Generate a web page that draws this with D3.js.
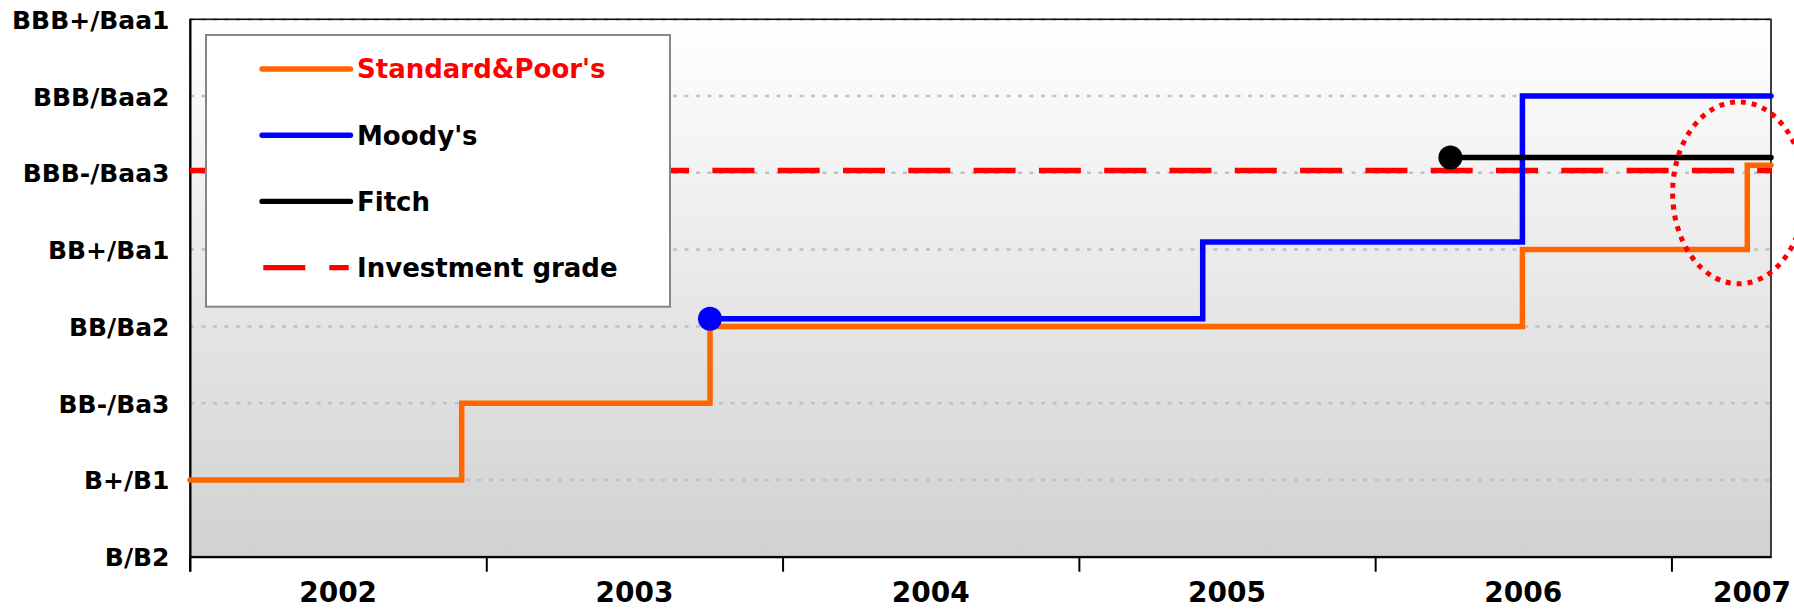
<!DOCTYPE html>
<html>
<head>
<meta charset="utf-8">
<script src="https://cdn.jsdelivr.net/npm/d3@7"></script>
<style>
  html, body { margin: 0; padding: 0; background: #ffffff; }
  svg { display: block; }
  text { font-family: "DejaVu Sans", Verdana, sans-serif; font-weight: bold; }
</style>
</head>
<body>
<svg id="chart" width="1794" height="609"></svg>
<script>
// ---------------- DATA ----------------
const ratingLabels = ["B/B2", "B+/B1", "BB-/Ba3", "BB/Ba2", "BB+/Ba1", "BBB-/Baa3", "BBB/Baa2", "BBB+/Baa1"];
const yearLabels = [2002, 2003, 2004, 2005, 2006, 2007];
const xStart = 2002.0;
const xEnd = 2007.336;

// rating changes (decimal year of change, rating level index)
const spDates = [2002.0, 2002.917, 2003.755, 2006.497, 2007.256];
const spLevels = [1, 2, 3, 4, 5.1];
const moodysDates = [2003.755, 2005.418, 2006.497];
const moodysLevels = [3.1, 4.1, 6.0];
const fitchDates = [2006.254];
const fitchLevels = [5.2];
const investmentGradeLevel = 5.03;

const seriesNames = ["Standard&Poor's", "Moody's", "Fitch", "Investment grade"];

// highlighted region (data coordinates: decimal year, rating level, half-widths)
const highlightCenter = [2007.227, 4.74];
const highlightRadius = [0.223, 1.185];

// ---------------- LAYOUT ----------------
const W = 1794, H = 609;
const plot = { left: 190, right: 1771, top: 19.3, bottom: 556.7 };

const svg = d3.select("#chart");

const x = d3.scaleLinear().domain([xStart, xEnd]).range([plot.left, plot.right]);
const y = d3.scaleLinear().domain([0, ratingLabels.length - 1]).range([plot.bottom, plot.top]);

// background gradient
const defs = svg.append("defs");
const grad = defs.append("linearGradient").attr("id", "bg").attr("x1", 0).attr("y1", 0).attr("x2", 0).attr("y2", 1);
grad.append("stop").attr("offset", "0%").attr("stop-color", "#ffffff");
grad.append("stop").attr("offset", "100%").attr("stop-color", "#d1d1d1");

svg.append("rect")
  .attr("x", plot.left).attr("y", plot.top)
  .attr("width", plot.right - plot.left).attr("height", plot.bottom - plot.top)
  .attr("fill", "url(#bg)");

// gridlines
svg.append("g").selectAll("line")
  .data(d3.range(1, ratingLabels.length))
  .join("line")
  .attr("x1", plot.left).attr("x2", plot.right)
  .attr("y1", d => y(d)).attr("y2", d => y(d))
  .attr("stroke", "#c0c0c0").attr("stroke-width", 2.5)
  .attr("stroke-dasharray", "4,7.5");

// plot border
svg.append("rect")
  .attr("x", plot.left).attr("y", plot.top)
  .attr("width", plot.right - plot.left).attr("height", plot.bottom - plot.top)
  .attr("fill", "none").attr("stroke", "#111").attr("stroke-width", 1.6);

// y axis labels
const yAxis = d3.axisLeft(y)
  .tickValues(d3.range(ratingLabels.length))
  .tickFormat(i => ratingLabels[i])
  .tickSize(0).tickPadding(20.5);
const gy = svg.append("g").attr("transform", `translate(${plot.left},0)`).call(yAxis);
gy.select(".domain").attr("stroke", "#000").attr("stroke-width", 2);
gy.selectAll("text")
  .attr("font-size", 25).attr("fill", "#000")
  .attr("font-family", "'DejaVu Sans', sans-serif").attr("font-weight", "bold")
  .attr("dy", "0.36em");

// x axis: ticks at year boundaries, labels at mid-year
const xAxis = d3.axisBottom(x)
  .tickValues(yearLabels)
  .tickFormat("")
  .tickSize(15).tickSizeOuter(0);
const gx = svg.append("g").attr("transform", `translate(0,${plot.bottom})`).call(xAxis);
gx.select(".domain").attr("stroke", "#000").attr("stroke-width", 2);
gx.selectAll(".tick line").attr("stroke", "#000").attr("stroke-width", 2);
// left-edge tick
svg.append("line")
  .attr("x1", plot.left).attr("x2", plot.left)
  .attr("y1", plot.bottom).attr("y2", plot.bottom + 15)
  .attr("stroke", "#000").attr("stroke-width", 2);

svg.append("g").selectAll("text")
  .data(yearLabels)
  .join("text")
  .attr("x", d => {
    const c = x(d + 0.5);
    return d === yearLabels[yearLabels.length - 1] ? Math.min(c, plot.right + 20) : c;
  })
  .attr("y", 602)
  .attr("text-anchor", d => d === yearLabels[yearLabels.length - 1] ? "end" : "middle")
  .attr("font-size", 28).attr("fill", "#000")
  .text(d => d);

// ---------------- SERIES ----------------
function stepPoints(dates, levels) {
  const pts = dates.map((d, i) => ({ t: d, v: levels[i] }));
  pts.push({ t: xEnd, v: levels[levels.length - 1] });
  return pts;
}
const stepLine = d3.line().x(d => x(d.t)).y(d => y(d.v)).curve(d3.curveStepAfter);

// investment grade
svg.append("path")
  .datum([{ t: xStart, v: investmentGradeLevel }, { t: xEnd, v: investmentGradeLevel }])
  .attr("d", d3.line().x(d => x(d.t)).y(d => y(d.v)))
  .attr("fill", "none").attr("stroke", "#ff0000").attr("stroke-width", 5.5)
  .attr("stroke-dasharray", "42,23.3");

const series = [
  { name: seriesNames[0], pts: stepPoints(spDates, spLevels), color: "#ff6600", marker: false },
  { name: seriesNames[1], pts: stepPoints(moodysDates, moodysLevels), color: "#0000ff", marker: true },
  { name: seriesNames[2], pts: stepPoints(fitchDates, fitchLevels), color: "#000000", marker: true }
];

series.forEach(s => {
  svg.append("path")
    .datum(s.pts)
    .attr("d", stepLine)
    .attr("fill", "none").attr("stroke", s.color).attr("stroke-width", 5.5)
    .attr("stroke-linejoin", "miter").attr("stroke-linecap", "round");
  if (s.marker) {
    svg.append("circle")
      .attr("cx", x(s.pts[0].t)).attr("cy", y(s.pts[0].v))
      .attr("r", 12).attr("fill", s.color);
  }
});

// ---------------- LEGEND ----------------
const legend = svg.append("g");
legend.append("rect")
  .attr("x", 206).attr("y", 35).attr("width", 464).attr("height", 271.7)
  .attr("fill", "#ffffff").attr("stroke", "#868686").attr("stroke-width", 2);

const legendItems = [
  { name: seriesNames[0], color: "#ff6600", text: "#ff0000", dash: null },
  { name: seriesNames[1], color: "#0000ff", text: "#000000", dash: null },
  { name: seriesNames[2], color: "#000000", text: "#000000", dash: null },
  { name: seriesNames[3], color: "#ff0000", text: "#000000", dash: "42,24" }
];
const legendY = d3.scaleLinear().domain([0, 3]).range([69, 267.7]);
legendItems.forEach((it, i) => {
  const ly = legendY(i);
  legend.append("line")
    .attr("x1", it.dash ? 263.3 : 262).attr("x2", it.dash ? 348.7 : 350.5)
    .attr("y1", ly).attr("y2", ly)
    .attr("stroke", it.color).attr("stroke-width", 5.3)
    .attr("stroke-linecap", it.dash ? "butt" : "round")
    .attr("stroke-dasharray", it.dash);
  legend.append("text")
    .attr("x", 357).attr("y", ly).attr("dy", "0.36em")
    .attr("font-size", 26).attr("fill", it.text)
    .text(it.name);
});

// ---------------- HIGHLIGHT ----------------
const cx = x(highlightCenter[0]), cy = y(highlightCenter[1]);
const rx = x(highlightCenter[0] + highlightRadius[0]) - cx;
const ry = cy - y(highlightCenter[1] + highlightRadius[1]);
svg.append("ellipse")
  .attr("cx", cx).attr("cy", cy).attr("rx", rx).attr("ry", ry)
  .attr("fill", "none").attr("stroke", "#ff0000").attr("stroke-width", 5)
  .attr("stroke-dasharray", "5,6");
</script>
</body>
</html>
